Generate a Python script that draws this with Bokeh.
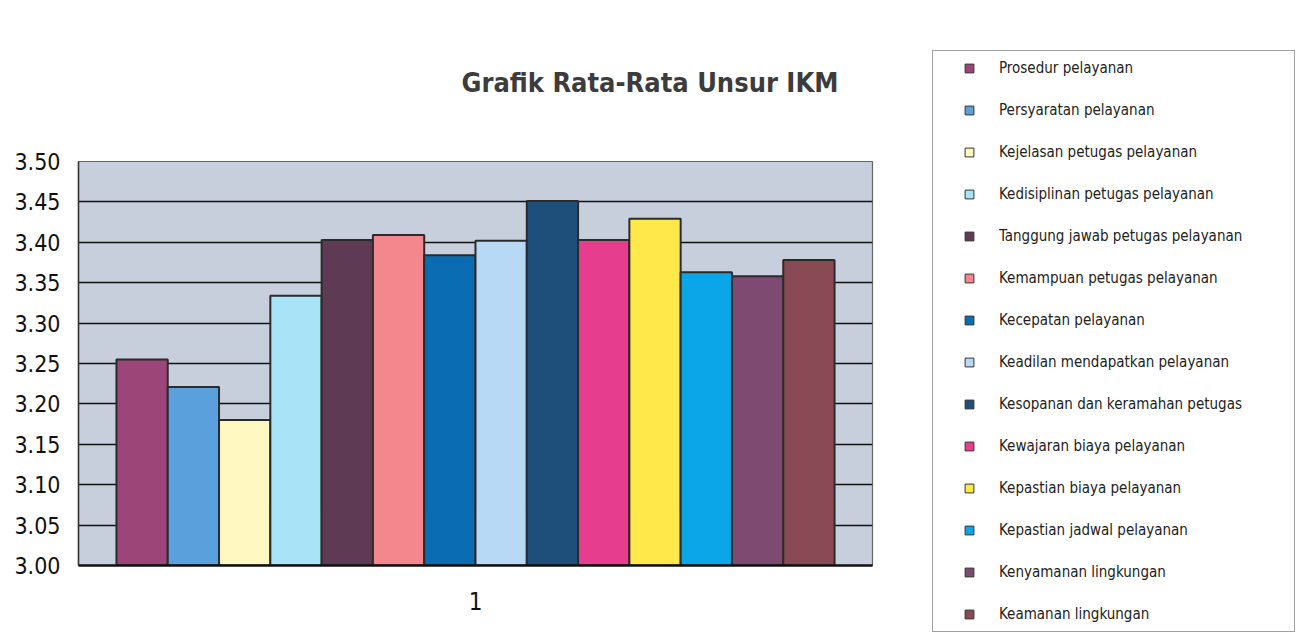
from bokeh.plotting import figure
from bokeh.models import (ColumnDataSource, Range1d, FixedTicker, Legend, LegendItem,
                          NumeralTickFormatter)
from bokeh.core.properties import value
from bokeh.embed import file_html
from bokeh.resources import INLINE

# ---- data ----
categories = [
    "Prosedur pelayanan",
    "Persyaratan pelayanan",
    "Kejelasan petugas pelayanan",
    "Kedisiplinan petugas pelayanan",
    "Tanggung jawab petugas pelayanan",
    "Kemampuan petugas pelayanan",
    "Kecepatan pelayanan",
    "Keadilan mendapatkan pelayanan",
    "Kesopanan dan keramahan petugas",
    "Kewajaran biaya pelayanan",
    "Kepastian biaya pelayanan",
    "Kepastian jadwal pelayanan",
    "Kenyamanan lingkungan",
    "Keamanan lingkungan",
]
values = [3.255, 3.221, 3.180, 3.334, 3.403, 3.409, 3.384,
          3.402, 3.451, 3.403, 3.429, 3.363, 3.358, 3.378]
colors = ["#9c4578", "#5aa0dc", "#fff8c0", "#a9e3f7", "#5e3a55", "#f4868e", "#0a6db3",
          "#b7d9f5", "#1e4f7b", "#e63d8e", "#ffe84a", "#0aa6e8", "#7e4a72", "#8a4a55"]
x_labels = ["1"]
y_ticks = [3.00, 3.05, 3.10, 3.15, 3.20, 3.25, 3.30, 3.35, 3.40, 3.45, 3.50]

NARROW = "'Liberation Sans Narrow', 'DejaVu Sans Condensed', sans-serif"

idx = list(range(len(categories)))
src = ColumnDataSource(dict(x=idx, top=values, color=colors, name=categories))

n = len(categories)
pad = 0.74
p = figure(frame_width=794, frame_height=404, output_backend="svg", toolbar_location=None,
           x_range=Range1d(-0.5 - pad, n - 0.5 + pad),
           y_range=Range1d(y_ticks[0], y_ticks[-1]),
           min_border_left=78, min_border_right=0, min_border_top=161, min_border_bottom=79)

bars = p.vbar(x="x", top="top", bottom=y_ticks[0], width=1.0, source=src,
              fill_color="color", line_color="#2b2b2b", line_width=2)
# zero-size markers only used to draw the small square swatches in the legend
swatch = p.scatter(x="x", y="top", source=src, marker="square", size=0,
                   fill_color="color", line_color="#333333", line_width=1)

p.title.text = "Grafik Rata-Rata Unsur IKM"
p.title.text_font = NARROW
p.title.text_font_size = "27px"
p.title.text_font_style = "bold"
p.title.text_color = "#3c3c3c"
p.title.align = "left"
p.title.offset = 383
p.title.standoff = 128

p.background_fill_color = "#c7cfdc"
p.border_fill_color = "white"
p.outline_line_color = "#666666"
p.outline_line_width = 1.2

p.xgrid.visible = False
p.ygrid.ticker = FixedTicker(ticks=y_ticks)
p.ygrid.grid_line_color = "#111111"
p.ygrid.grid_line_width = 1.4

p.yaxis.ticker = FixedTicker(ticks=y_ticks)
p.yaxis.formatter = NumeralTickFormatter(format="0.00")
p.yaxis.major_label_text_font = NARROW
p.yaxis.major_label_text_font_size = "23px"
p.yaxis.major_label_text_color = "#111111"
p.yaxis.major_label_standoff = 18
p.yaxis.major_tick_in = 0
p.yaxis.major_tick_out = 0
p.yaxis.minor_tick_line_color = None
p.yaxis.axis_line_color = "#333333"
p.yaxis.axis_line_width = 1.5

center = (n - 1) / 2
p.xaxis.ticker = FixedTicker(ticks=[center])
p.xaxis.major_label_overrides = {center: x_labels[0]}
p.xaxis.major_label_text_font = NARROW
p.xaxis.major_label_text_font_size = "24px"
p.xaxis.major_label_text_color = "#111111"
p.xaxis.major_label_standoff = 26
p.xaxis.major_tick_in = 0
p.xaxis.major_tick_out = 0
p.xaxis.minor_tick_line_color = None
p.xaxis.axis_line_color = "#111111"
p.xaxis.axis_line_width = 2.5

items = [LegendItem(label=value(name), renderers=[swatch], index=i)
         for i, name in enumerate(categories)]

legend = Legend(items=items, location=(60, -67), orientation="vertical",
                padding=6, spacing=20, margin=0,
                glyph_width=60, glyph_height=22, label_standoff=0,
                label_height=22, label_width=289,
                label_text_font=NARROW, label_text_font_size="15px",
                label_text_color="#222222",
                border_line_color="#444444", border_line_width=1.5,
                background_fill_color="white", background_fill_alpha=1.0)
p.add_layout(legend, "right")

open("out.html", "w").write(file_html(p, INLINE))
